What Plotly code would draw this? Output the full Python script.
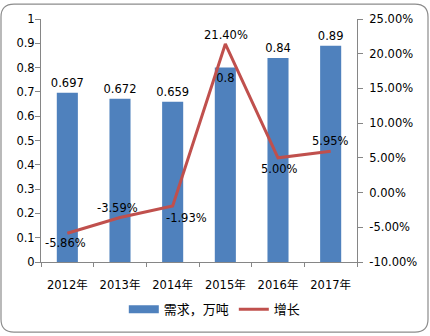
import plotly.graph_objects as go

# Demand (10k tonnes) and year-on-year growth (%)
years = ["2012年", "2013年", "2014年", "2015年", "2016年", "2017年"]
demand = [0.697, 0.672, 0.659, 0.8, 0.84, 0.89]
growth = [-5.86, -3.59, -1.93, 21.40, 5.00, 5.95]
left_ticks = [0, 0.1, 0.2, 0.3, 0.4, 0.5, 0.6, 0.7, 0.8, 0.9, 1]
right_ticks = [-10, -5, 0, 5, 10, 15, 20, 25]

W, H = 430, 336
L, R, T, B = 41, 73, 16, 74
PW, PH = W - L - R, H - T - B

FONT = "DejaVu Sans, Noto Sans CJK SC, sans-serif"
AXIS = "#868686"
BAR = "#4F81BD"
LINE = "#C0504D"


def px(x):
    return (x - L) / PW


def py(y):
    return (H - B - y) / PH


def rounded_frame(x0, y0, x1, y1, r):
    pts = [
        f"M {px(x0 + r)},{py(y0)}",
        f"L {px(x1 - r)},{py(y0)}",
        f"Q {px(x1)},{py(y0)} {px(x1)},{py(y0 + r)}",
        f"L {px(x1)},{py(y1 - r)}",
        f"Q {px(x1)},{py(y1)} {px(x1 - r)},{py(y1)}",
        f"L {px(x0 + r)},{py(y1)}",
        f"Q {px(x0)},{py(y1)} {px(x0)},{py(y1 - r)}",
        f"L {px(x0)},{py(y0 + r)}",
        f"Q {px(x0)},{py(y0)} {px(x0 + r)},{py(y0)}",
        "Z",
    ]
    return " ".join(pts)


bar_pos = ["inside" if v == 0.8 else "outside" for v in demand]
# label offsets (px) for the growth line labels
label_shift = [(-2, -10), (-3, 10), (14, -12), (1, 9), (1, -11), (0, 10)]

fig = go.Figure()
# legend swatch for the bars: a wide flat rectangle
fig.add_trace(go.Scatter(
    x=[None], y=[None], name="需求，万吨", mode="lines",
    line=dict(color=BAR, width=8), legendgroup="demand",
))
fig.add_trace(go.Bar(
    x=years, y=demand, name="需求，万吨", showlegend=False,
    legendgroup="demand",
    marker=dict(color=BAR, line=dict(width=0)),
    text=[f"{v:g}" for v in demand],
    textposition=bar_pos,
    textangle=0,
    insidetextanchor="end",
    constraintext="none",
    textfont=dict(family=FONT, size=11.5, color="#000000"),
    cliponaxis=False,
))
fig.add_trace(go.Scatter(
    x=years, y=growth, name="增长", yaxis="y2",
    mode="lines",
    line=dict(color=LINE, width=3),
))

annotations = []
for yr, g, (dx, dy) in zip(years, growth, label_shift):
    annotations.append(dict(
        x=yr, y=g, xref="x", yref="y2", text=f"{g:.2f}%",
        showarrow=False, xshift=dx, yshift=dy,
        font=dict(family=FONT, size=11.5, color="#000000"),
    ))

fig.update_layout(
    width=W, height=H,
    margin=dict(l=L, r=R, t=T, b=B),
    paper_bgcolor="white", plot_bgcolor="white",
    font=dict(family=FONT, size=11.5, color="#000000"),
    bargap=0.6,
    showlegend=True,
    legend=dict(orientation="h", x=0.55, xanchor="center",
                y=py(310), yanchor="middle",
                font=dict(family=FONT, size=13),
                itemwidth=30, tracegroupgap=0),
    annotations=annotations,
    xaxis=dict(
        type="category", showgrid=False, showline=True, linecolor=AXIS,
        linewidth=1, ticks="outside", tickson="boundaries", ticklen=4,
        tickcolor=AXIS, ticklabelstandoff=12,
    ),
    yaxis=dict(
        range=[0, 1], tickvals=left_ticks,
        ticktext=[f"{v:g}" for v in left_ticks],
        showgrid=False, zeroline=False, showline=True, linecolor=AXIS,
        ticks="outside", ticklen=5, tickcolor=AXIS, ticklabelstandoff=-2,
    ),
    yaxis2=dict(
        range=[-10, 25], overlaying="y", side="right",
        tickvals=right_ticks,
        ticktext=[f"{v:.2f}%" for v in right_ticks],
        showgrid=False, zeroline=False, showline=True, linecolor=AXIS,
        ticks="outside", ticklen=5, tickcolor=AXIS, ticklabelstandoff=4,
    ),
    shapes=[dict(
        type="path", xref="paper", yref="paper",
        path=rounded_frame(1, 1, 428, 333, 13),
        line=dict(color="#8C8C8C", width=1.2),
        fillcolor="rgba(0,0,0,0)", layer="below",
    )],
)

fig.write_html("out.html")
